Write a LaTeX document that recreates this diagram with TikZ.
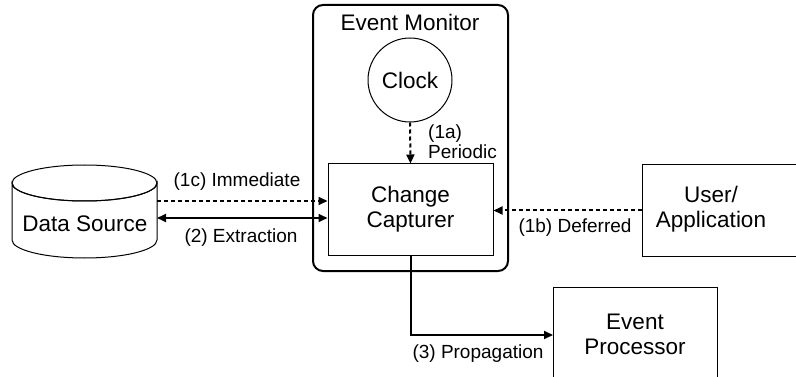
\documentclass[tikz,border=0pt]{standalone}
\usepackage{fontspec}
\setmainfont{Liberation Sans}
\usetikzlibrary{arrows.meta}
\tikzset{
  big/.style={font=\fontsize{22.5}{25}\selectfont, align=center},
  small/.style={font=\fontsize{19}{20}\selectfont, align=left, inner sep=0pt},
  box/.style={draw, line width=1pt, inner sep=0pt},
  flow/.style={line width=2pt, -{Triangle[length=9pt,width=8pt]}},
  trigger/.style={flow, dash pattern=on 4pt off 3pt},
}
\begin{document}
\begin{tikzpicture}[x=1pt, y=-1pt]
  \useasboundingbox (0,0) rectangle (796,377);
  \clip (0,0) rectangle (796,377);

  % Event Monitor container
  \node[box, line width=2pt, rounded corners=10pt, minimum width=195pt, minimum height=266pt] (em) at (410.5,138) {};
  \node[big] (emt) at (410,22) {Event Monitor};

  % Clock
  \node[draw, circle, line width=1pt, minimum size=84pt, inner sep=0pt, big] (clock) at (410,80) {Clock};

  % Change Capturer
  \node[box, big, minimum width=165pt, minimum height=91pt] (cc) at (410.5,209.5) {Change\\Capturer};

  % Data Source cylinder
  \draw[line width=1pt, fill=white]
    (12,183) -- (12,240) arc[start angle=180, end angle=360, x radius=72.5pt, y radius=18pt]
    -- (157,183) arc[start angle=0, end angle=-180, x radius=72.5pt, y radius=18pt] -- cycle;
  \draw[line width=1pt] (84.5,183) ellipse[x radius=72.5pt, y radius=18pt];
  \node[big] (ds) at (85,224) {Data Source};
  \coordinate (dsa) at (157,201);
  \coordinate (dsb) at (157,218);

  % User / Application (runs past the right edge)
  \node[box, minimum width=170pt, minimum height=91pt] (user) at (727,210.5) {};
  \node[big] (usert) at (711,209.5) {User/\\Application};

  % Event Processor (runs past the bottom edge)
  \node[box, minimum width=164pt, minimum height=120pt] (ep) at (635,347) {};
  \node[big] (ept) at (635,334) {Event\\Processor};
  \coordinate (epin) at (553,335);

  % Connectors
  \draw[trigger] (clock.south) -- (cc.north);
  \draw[trigger] (dsa) -- (cc.west |- dsa);
  \draw[line width=2pt, {Triangle[length=9pt,width=8pt]}-{Triangle[length=9pt,width=8pt]}] (dsb) -- (cc.west |- dsb);
  \draw[trigger] (user.west) -- (cc.east |- user.west);
  \draw[flow] (cc.south) |- (epin);

  % Connector labels
  \node[small, anchor=west] (l1a) at (428,142) {(1a)\\Periodic};
  \node[small] (l1c) at (237,182) {(1c) Immediate};
  \node[small] (l2) at (241,238) {(2) Extraction};
  \node[small] (l1b) at (575,228) {(1b) Deferred};
  \node[small] (l3) at (478,354) {(3) Propagation};
\end{tikzpicture}
\end{document}
